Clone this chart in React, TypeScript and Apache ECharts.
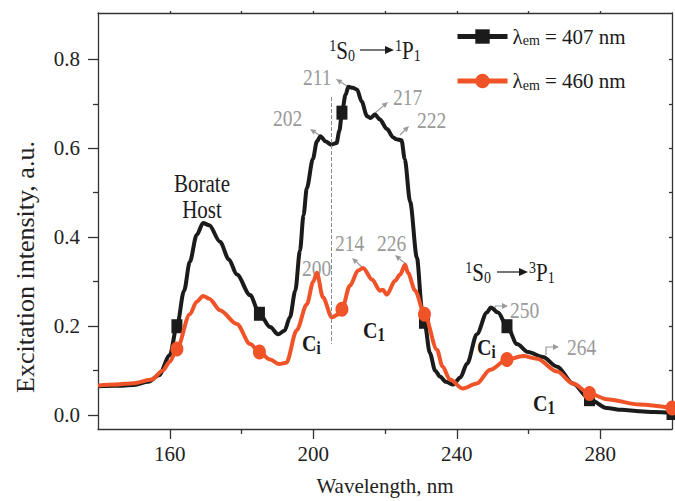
import React, { useEffect, useRef } from "react";
import * as echarts from "echarts";

const wavelength407 = [140, 145, 150, 154, 157, 160, 162, 164, 165.6, 167.5, 169.3, 171, 174, 176.5, 178.7, 182.4, 185, 188, 190.2, 192, 193.5, 195, 196.3, 197.3, 198.2, 199.9, 201, 202, 203.5, 205, 206.5, 207.3, 208, 209, 209.8, 211, 212.2, 213.5, 215, 216, 217.2, 218.5, 220.6, 222.2, 223.2, 224.6, 225.5, 227, 228.9, 230.3, 231, 232.5, 234, 235.3, 237, 239, 241, 242.9, 245.6, 248.4, 249.5, 251.5, 254, 256.8, 259.9, 264, 268, 272.4, 277, 281.8, 286, 291, 295, 300];
const intensity407 = [0.065, 0.066, 0.068, 0.075, 0.09, 0.135, 0.2, 0.28, 0.345, 0.405, 0.432, 0.427, 0.39, 0.35, 0.316, 0.27, 0.228, 0.198, 0.182, 0.19, 0.22, 0.28, 0.37, 0.45, 0.51, 0.576, 0.615, 0.627, 0.615, 0.608, 0.612, 0.64, 0.68, 0.72, 0.738, 0.736, 0.732, 0.705, 0.672, 0.668, 0.676, 0.665, 0.643, 0.625, 0.62, 0.618, 0.576, 0.48, 0.354, 0.24, 0.21, 0.14, 0.1, 0.087, 0.075, 0.069, 0.085, 0.116, 0.182, 0.231, 0.242, 0.231, 0.2, 0.16, 0.142, 0.131, 0.109, 0.071, 0.036, 0.016, 0.012, 0.009, 0.007, 0.005];

const wavelength460 = [140, 145, 150, 155, 158, 160, 162, 165.6, 167.5, 169.3, 171, 174, 178.7, 182.4, 185, 188, 190.5, 192.5, 195.4, 198.2, 200, 201, 202.7, 205.2, 206.6, 208, 210.2, 212.5, 213.9, 216.4, 218.6, 219.4, 220.5, 222.8, 224.2, 225.6, 226.4, 228.4, 231, 234.5, 236, 238.1, 241.7, 245.6, 249.3, 254, 258.5, 262.4, 268, 272.4, 277, 281.8, 291, 300];
const intensity460 = [0.067, 0.069, 0.072, 0.08, 0.1, 0.12, 0.149, 0.227, 0.255, 0.268, 0.262, 0.236, 0.205, 0.16, 0.142, 0.125, 0.115, 0.118, 0.191, 0.249, 0.3, 0.32, 0.265, 0.22, 0.225, 0.238, 0.291, 0.325, 0.331, 0.305, 0.28, 0.282, 0.271, 0.302, 0.316, 0.338, 0.32, 0.28, 0.227, 0.147, 0.11, 0.08, 0.06, 0.071, 0.102, 0.125, 0.133, 0.127, 0.098, 0.071, 0.049, 0.036, 0.024, 0.016];

const markerWavelengths = [162, 185, 208, 231, 254, 277, 300];

const xMajorTicks = [160, 200, 240, 280];
const xMinorTicks = [180, 220, 260];
const xTopTicks = [160, 180, 200, 220, 240, 260, 280];
const yMajorTicks = [0, 0.2, 0.4, 0.6, 0.8];
const yMinorTicks = [0.1, 0.3, 0.5, 0.7];
const yRightTicks = [0, 0.1, 0.2, 0.3, 0.4, 0.5, 0.6, 0.7, 0.8];

const seriesNames = ["407", "460"];

const FONT = "Liberation Serif";
const GRAY = "#9a9a9a";
const BLACK = "#1b1b1b";
const ORANGE = "#ef5327";
const AXIS = "#333";
const SY = 1.2;

function arrow(x1: number, y1: number, x2: number, y2: number, color = GRAY, head = 6, lw = 1.2) {
  const a = Math.atan2(y2 - y1, x2 - x1);
  const bx = x2 - head * Math.cos(a);
  const by = y2 - head * Math.sin(a);
  const w = head * 0.45;
  return [
    { type: "line", shape: { x1, y1, x2: bx, y2: by }, style: { stroke: color, lineWidth: lw } },
    {
      type: "polygon",
      shape: {
        points: [
          [x2, y2],
          [bx + w * Math.sin(a), by - w * Math.cos(a)],
          [bx - w * Math.sin(a), by + w * Math.cos(a)],
        ],
      },
      style: { fill: color },
    },
  ];
}

function bentArrow(x: number, yBottom: number, yTop: number, xEnd: number) {
  return [
    { type: "polyline", shape: { points: [[x, yBottom], [x, yTop], [xEnd - 5, yTop]] }, style: { stroke: GRAY, lineWidth: 1.2, fill: null } },
    { type: "polygon", shape: { points: [[xEnd, yTop], [xEnd - 6, yTop - 3], [xEnd - 6, yTop + 3]] }, style: { fill: GRAY } },
  ];
}

function grayText(x: number, y: number, t: string) {
  return { type: "text", x, y, scaleY: SY, style: { text: t, fill: GRAY, font: `19.5px "${FONT}"`, textVerticalAlign: "middle", textAlign: "left" } };
}

const richBase = {
  n: { fontSize: 21, fontFamily: FONT, fill: BLACK },
  sup: { fontSize: 14, fontFamily: FONT, fill: BLACK, verticalAlign: "top", padding: [0, 0, 8, 0] },
  sub: { fontSize: 14, fontFamily: FONT, fill: BLACK, verticalAlign: "bottom", padding: [8, 0, 0, 0] },
  b: { fontSize: 20, fontFamily: FONT, fontWeight: "bold", fill: BLACK },
  bs: { fontSize: 15, fontFamily: FONT, fontWeight: "bold", fill: BLACK, verticalAlign: "bottom", padding: [8, 0, 0, 0] },
};

function richText(x: number, y: number, t: string, align = "left") {
  return {
    type: "text",
    x,
    y,
    scaleY: SY,
    style: { text: t, rich: richBase, textVerticalAlign: "middle", textAlign: align, fill: BLACK, font: `21px "${FONT}"` },
  };
}

function transition(xLeftEnd: number, y: number, arrowStart: number, arrowEnd: number, right: string, left: string) {
  return [
    richText(xLeftEnd, y, left, "right"),
    ...arrow(arrowStart, y, arrowEnd, y, BLACK, 9, 1.2),
    richText(arrowEnd + 1, y, right, "left"),
  ];
}

export default function App() {
  const ref = useRef<HTMLDivElement>(null);
  useEffect(() => {
    if (!ref.current) return;
    const chart = echarts.init(ref.current, null, { renderer: "svg" });
    const mk = (wl: number[], v: number[], sym: string) =>
      wl.map((x, i) => ({ value: [x, v[i]], symbol: markerWavelengths.includes(x) ? sym : "none" }));

    const tickLine = { color: AXIS, width: 1.3 };
    const option: any = {
      animation: false,
      textStyle: { fontFamily: FONT },
      grid: { left: 98, right: 3, top: 13, bottom: 68, containLabel: false },
      legend: {
        data: seriesNames,
        orient: "vertical",
        left: 450,
        top: 21,
        itemGap: 23,
        itemWidth: 50,
        itemHeight: 18,
        lineStyle: { width: 5 },
        formatter: (n: string) => `{a|λ}{s|em}{a| = ${n} nm}`,
        textStyle: {
          rich: {
            a: { fontSize: 21, fontFamily: FONT, color: BLACK },
            s: { fontSize: 14, fontFamily: FONT, color: BLACK, verticalAlign: "bottom", padding: [8, 0, 0, 0] },
          },
        },
      },
      xAxis: [
        {
          type: "value", min: 140, max: 300, position: "bottom",
          name: "Wavelength, nm", nameLocation: "middle", nameGap: 46,
          nameTextStyle: { fontSize: 21, fontFamily: FONT, color: "#222" },
          axisLine: { show: true, onZero: false, lineStyle: tickLine },
          axisTick: { show: true, length: 10, customValues: xMajorTicks, lineStyle: tickLine },
          axisLabel: { customValues: xMajorTicks, fontSize: 21, fontFamily: FONT, color: "#222", margin: 14 },
          splitLine: { show: false },
        },
        {
          type: "value", min: 140, max: 300, position: "bottom",
          axisLine: { show: false, onZero: false },
          axisTick: { show: true, length: 5, customValues: xMinorTicks, lineStyle: tickLine },
          axisLabel: { show: false },
          splitLine: { show: false },
        },
        {
          type: "value", min: 140, max: 300, position: "top",
          axisLine: { show: true, onZero: false, lineStyle: tickLine },
          axisTick: { show: true, length: 2, customValues: xTopTicks, lineStyle: tickLine },
          axisLabel: { show: false },
          splitLine: { show: false },
        },
      ],
      yAxis: [
        {
          type: "value", min: -0.031, max: 0.904, position: "left",
          name: "Excitation intensity, a.u.", nameLocation: "middle", nameGap: 60,
          nameTextStyle: { fontSize: 26, fontFamily: FONT, color: "#222", padding: [0, 92, 0, 0] },
          axisLine: { show: true, onZero: false, lineStyle: tickLine },
          axisTick: { show: true, length: 10, customValues: yMajorTicks, lineStyle: tickLine },
          axisLabel: { customValues: yMajorTicks, fontSize: 21, fontFamily: FONT, color: "#222", margin: 18, formatter: (v: number) => v.toFixed(1) },
          splitLine: { show: false },
        },
        {
          type: "value", min: -0.031, max: 0.904, position: "left",
          axisLine: { show: false, onZero: false },
          axisTick: { show: true, length: 5, customValues: yMinorTicks, lineStyle: tickLine },
          axisLabel: { show: false },
          splitLine: { show: false },
        },
        {
          type: "value", min: -0.031, max: 0.904, position: "right",
          axisLine: { show: true, onZero: false, lineStyle: tickLine },
          axisTick: { show: true, inside: true, length: 3, customValues: yRightTicks, lineStyle: tickLine },
          axisLabel: { show: false },
          splitLine: { show: false },
        },
      ],
      series: [
        {
          name: seriesNames[0], type: "line", xAxisIndex: 0, yAxisIndex: 0,
          data: mk(wavelength407, intensity407, "rect"),
          symbol: "rect", symbolSize: [11, 14], showSymbol: true,
          smooth: 0.3, smoothMonotone: "x",
          lineStyle: { color: BLACK, width: 4 }, itemStyle: { color: BLACK },
          z: 3,
          markLine: {
            silent: true, symbol: ["none", "none"], label: { show: false },
            lineStyle: { type: "dashed", color: "#8a8a8a", width: 1 },
            data: [[{ coord: [205, 0.715] }, { coord: [205, 0.16] }]],
          },
        },
        {
          name: seriesNames[1], type: "line", xAxisIndex: 0, yAxisIndex: 0,
          data: mk(wavelength460, intensity460, "circle"),
          symbol: "circle", symbolSize: [13, 15], showSymbol: true,
          smooth: 0.3, smoothMonotone: "x",
          lineStyle: { color: ORANGE, width: 4 }, itemStyle: { color: ORANGE },
          z: 4,
        },
      ],
      graphic: [
        richText(202, 183, "{n|Borate}", "center"),
        richText(202, 209, "{n|Host}", "center"),
        ...transition(355, 50, 360, 394, "{sup|1}{n|P}{sub|1}", "{sup|1}{n|S}{sub|0}"),
        ...transition(491, 272, 497, 528, "{sup|3}{n|P}{sub|1}", "{sup|1}{n|S}{sub|0}"),
        grayText(273, 118, "202"),
        grayText(303, 77, "211"),
        grayText(393, 97, "217"),
        grayText(417, 120, "222"),
        grayText(335, 243, "214"),
        grayText(377, 243, "226"),
        grayText(302, 268, "200"),
        grayText(510, 310, "250"),
        grayText(567, 347, "264"),
        ...arrow(322, 137, 310, 129),
        ...arrow(350, 88, 336, 79),
        ...arrow(375, 113, 388, 102),
        ...arrow(400, 135, 409, 126),
        ...arrow(363, 268, 352, 258),
        ...arrow(407, 265, 395, 255),
        ...bentArrow(495, 314, 306, 508),
        ...bentArrow(546, 355, 347, 559),
        richText(302, 343, "{b|C}{bs|i}"),
        richText(363, 330, "{b|C}{bs|1}"),
        richText(477, 347, "{b|C}{bs|i}"),
        richText(533, 403, "{b|C}{bs|1}"),
      ],
    };
    chart.setOption(option);
    return () => chart.dispose();
  }, []);
  return <div ref={ref} style={{ position: "fixed", left: 0, top: 0, width: 675, height: 501, background: "#fff" }} />;
}
